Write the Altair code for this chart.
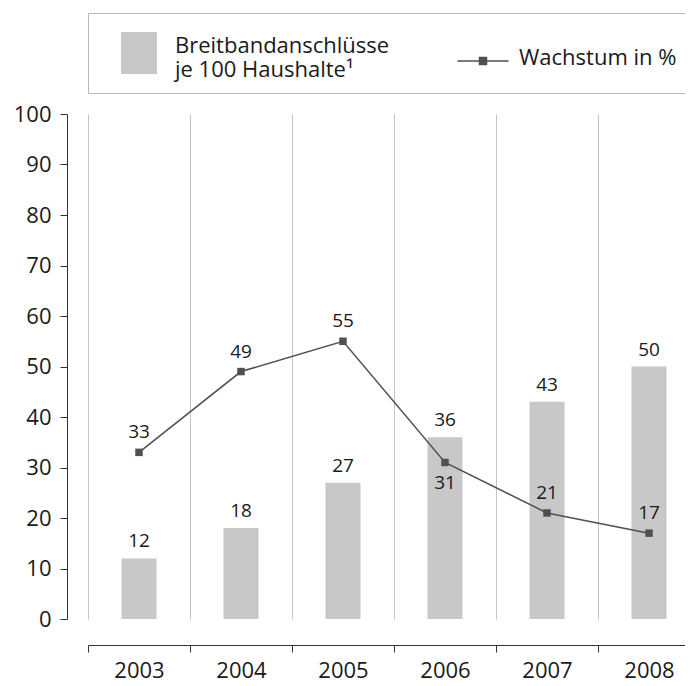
import altair as alt
import pandas as pd

# ---- data ----
years = ["2003", "2004", "2005", "2006", "2007", "2008"]
broadband = [12, 18, 27, 36, 43, 50]          # Breitbandanschlüsse je 100 Haushalte
growth = [33, 49, 55, 31, 21, 17]             # Wachstum in %
growth_label_pos = ["above", "above", "above", "below", "above", "above"]

bar_name = "Breitbandanschlüsse|je 100 Haushalte¹"
line_name = "Wachstum in %"

df = pd.DataFrame({"year": years, "broadband": broadband, "growth": growth,
                   "pos": growth_label_pos})

FONT = "Open Sans"
TXT = "#1a1a1a"
BAR = "#c8c8c8"
LINE = "#505050"
AX = "#333333"

xscale = alt.Scale(range=[0, 612], paddingInner=0, paddingOuter=0)
yscale = alt.Scale(domain=[0, 100], nice=False)

xaxis = alt.Axis(title=None, orient="bottom", offset=26, tickBand="extent",
                 grid=True, gridColor="#c4c4c4", gridWidth=1,
                 domainColor=AX, tickColor=AX, tickSize=7, labelAngle=0,
                 labelFont=FONT, labelFontSize=22, labelColor=TXT, labelPadding=8)
yaxis = alt.Axis(title=None, values=list(range(0, 101, 10)), offset=21, grid=False,
                 domainColor=AX, tickColor=AX, tickSize=7,
                 labelFont=FONT, labelFontSize=22, labelColor=TXT, labelPadding=9)

color_scale = alt.Scale(domain=[bar_name, line_name], range=[BAR, LINE])

# legend symbols: grey swatch for the bars, line with square marker for the line
swatch_path = "M-0.8625,-0.6625H0.8625V1.3625H-0.8625Z"
line_path = "M-1.275,0.15H1.275M-0.175,-0.025H0.175V0.325H-0.175Z"

is_line = "datum.value == 'Wachstum in %'"
legend = alt.Legend(
    title=None, orient="none", legendX=0, legendY=-101, direction="horizontal",
    padding=12, strokeColor="#b8b8b8", fillColor="white",
    symbolSize=1600, symbolOffset=18, symbolStrokeWidth=1.5,
    labelFont=FONT, labelFontSize=22, labelColor=TXT,
    labelOffset=15, columnPadding=54, labelLimit=500,
    labelExpr="split(datum.label, '|')",
    symbolType={"expr": is_line + " ? '" + line_path + "' : '" + swatch_path + "'"},
    symbolFillColor={"expr": is_line + " ? '" + LINE + "' : '" + BAR + "'"},
    symbolStrokeColor={"expr": is_line + " ? '" + LINE + "' : '" + BAR + "'"},
    symbolOpacity=1,
)

base = alt.Chart(df)
X = alt.X("year:O", scale=xscale, axis=xaxis)

bars = base.transform_calculate(series="'" + bar_name + "'").mark_bar(
    width=alt.RelativeBandSize(35 / 102)).encode(
    x=X,
    y=alt.Y("broadband:Q", scale=yscale, axis=yaxis),
    color=alt.Color("series:N", scale=color_scale, legend=legend),
)

bar_labels = base.mark_text(dy=-17, font=FONT, fontSize=19, color=TXT).encode(
    x=X,
    y=alt.Y("broadband:Q", scale=yscale, axis=yaxis),
    text="broadband:Q",
)

line = base.transform_calculate(series="'" + line_name + "'").mark_line(
    strokeWidth=1.5,
    point=alt.OverlayMarkDef(shape="square", size=56, filled=True)).encode(
    x=X,
    y=alt.Y("growth:Q", scale=yscale, axis=yaxis),
    color=alt.Color("series:N", scale=color_scale, legend=legend),
)

line_labels_above = base.transform_filter("datum.pos == 'above'").mark_text(
    dy=-20, font=FONT, fontSize=19, color=TXT).encode(
    x=X,
    y=alt.Y("growth:Q", scale=yscale, axis=yaxis),
    text="growth:Q",
)
line_labels_below = base.transform_filter("datum.pos == 'below'").mark_text(
    dy=21, font=FONT, fontSize=19, color=TXT).encode(
    x=X,
    y=alt.Y("growth:Q", scale=yscale, axis=yaxis),
    text="growth:Q",
)

chart = alt.layer(bars, bar_labels, line, line_labels_above, line_labels_below).properties(
    width=597, height=505,
    autosize=alt.AutoSizeParams(type="none"),
    padding={"left": 80, "top": 106, "right": 0, "bottom": 59},
    background="white",
).configure_view(strokeWidth=0)

chart.save("out.html", embed_options={"renderer": "svg", "actions": False})
